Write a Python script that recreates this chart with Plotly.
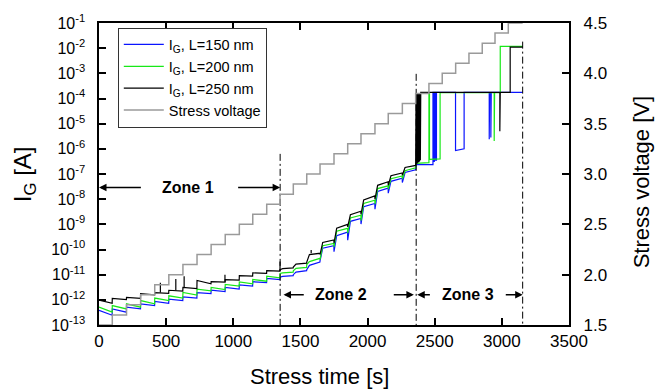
import plotly.graph_objects as go

# ---------------- data ----------------
# Stress-voltage staircase (time of each step [s], level [V])
v_times = [0, 99, 205, 310, 415, 520, 625, 730, 835, 940, 1045, 1145, 1249,
           1348, 1447, 1547, 1646, 1750, 1852, 1951, 2055, 2154, 2259,
           2358, 2457, 2556, 2656, 2755, 2854, 2949, 3048, 3155]
v_levels = [1.5, 1.6, 1.7, 1.8, 1.9, 2.0, 2.1, 2.2, 2.3, 2.4, 2.5, 2.6, 2.7,
            2.8, 2.9, 3.0, 3.1, 3.2, 3.3, 3.4, 3.5, 3.6, 3.7,
            3.8, 3.9, 4.0, 4.1, 4.2, 4.3, 4.4, 4.5, 4.5]

# IG given as log10(IG [A])
# Zone 1: value at start / end of each of the 13 voltage steps
z1_start_150 = [-12.42, -12.36, -12.29, -12.16, -12.06, -11.97, -11.88, -11.71, -11.62, -11.51, -11.41, -11.28, -11.15]
z1_end_150   = [-12.61, -12.49, -12.36, -12.23, -12.14, -12.03, -11.93, -11.75, -11.67, -11.57, -11.45, -11.32, -11.20]
z1_start_200 = [-12.29, -12.23, -12.16, -12.03, -11.93, -11.84, -11.71, -11.58, -11.51, -11.39, -11.29, -11.19, -11.06]
z1_end_200   = [-12.49, -12.36, -12.29, -12.16, -12.03, -11.93, -11.81, -11.64, -11.59, -11.45, -11.36, -11.26, -11.13]
z1_start_250 = [-12.01, -11.94, -11.90, -11.75, -11.71, -11.62, -11.51, -11.23, -11.28, -11.20, -11.04, -10.93, -10.84]
z1_end_250   = [-12.14, -11.99, -11.94, -11.80, -11.74, -11.65, -11.55, -11.36, -11.30, -11.22, -11.06, -10.95, -10.86]

# Zone 2: value at step start (dip), shortly after (rise), end of the 10 steps
z2_start_150 = [-11.10, -11.00, -10.80, -10.45, -10.09, -9.63, -8.99, -8.40, -7.76, -7.34]
z2_mid_150   = [-11.07, -10.90, -10.63, -9.95, -9.45, -8.88, -8.30, -7.69, -7.29, -6.94]
z2_end_150   = [-11.04, -10.84, -10.50, -9.85, -9.31, -8.77, -8.17, -7.56, -7.17, -6.83]
z2_start_200 = [-10.95, -10.85, -10.60, -10.40, -9.90, -9.35, -8.85, -8.20, -7.60, -7.20]
z2_mid_200   = [-10.93, -10.75, -10.48, -9.85, -9.27, -8.75, -8.17, -7.58, -7.19, -6.87]
z2_end_200   = [-10.90, -10.71, -10.35, -9.76, -9.16, -8.64, -8.04, -7.47, -7.08, -6.75]
z2_start_250 = [-10.80, -10.70, -10.50, -10.20, -9.75, -9.10, -8.60, -8.00, -7.45, -7.05]
z2_mid_250   = [-10.76, -10.58, -10.20, -9.72, -9.15, -8.62, -8.03, -7.45, -7.07, -6.74]
z2_end_250   = [-10.73, -10.54, -10.15, -9.62, -9.00, -8.48, -7.87, -7.31, -6.96, -6.66]

# Zone 3 (breakdown region): explicit points
z3_t_150 = [2358, 2360, 2487, 2487, 2492, 2492, 2497, 2497, 2505, 2505, 2513, 2513, 2655, 2655, 2719, 2719,
            2906, 2906, 2909, 2918, 2918, 2921, 3155]
z3_l_150 = [-6.83, -6.63, -6.63, -3.76, -3.76, -6.50, -6.50, -3.76, -3.76, -6.45, -6.45, -3.76, -3.76, -6.07, -6.00, -3.76,
            -3.76, -5.62, -3.76, -3.76, -5.55, -3.76, -3.76]
z3_t_200 = [2358, 2360, 2457, 2457, 2461, 2461, 2540, 2540, 2943, 2943, 2946, 2988, 2988, 3155]
z3_l_200 = [-6.75, -6.58, -6.55, -3.77, -3.77, -6.42, -6.40, -3.77, -3.77, -5.69, -3.77, -3.77, -1.93, -1.93]
z3_t_250 = [2358, 2361, 2363, 2366, 2369, 2372, 2375, 2378, 2381, 2384, 2387, 2390, 2393, 2396,
            2985, 2985, 2988, 3062, 3062, 3155]
z3_l_250 = [-6.66, -3.80, -6.60, -3.78, -6.58, -3.80, -6.55, -3.78, -6.52, -3.80, -6.50, -3.78, -6.45, -3.76,
            -3.76, -5.30, -3.76, -3.76, -1.96, -1.96]

# short noise spikes on the L=250 nm curve (time, base, peak) in log10
spike_t_250 = [457, 572, 634, 938, 1580, 1348]
spike_base_250 = [-11.71, -11.62, -11.51, -11.28, -10.15, -10.86]
spike_peak_250 = [-11.32, -11.17, -11.06, -11.00, -10.02, -10.48]

# zone boundaries (time) and the top of each dash-dot line (log10 IG)
zone_t = [1349, 2362, 3155]
zone_top = [-6.2, -3.02, -1.74]

series_names = ["I<sub>G</sub>, L=150 nm", "I<sub>G</sub>, L=200 nm", "I<sub>G</sub>, L=250 nm"]
series_colors = ["#0a14ff", "#18e818", "#000000"]
volt_color = "#9a9a9a"

y_tick_exp = list(range(-13, 0))
v_ticks = [1.5, 2.0, 2.5, 3.0, 3.5, 4.0, 4.5]

# ---------------- build ----------------
n1, n2 = 13, 10


def build(s1, e1, s2, m2, e2, t3, l3):
    t, y = [], []
    for k in range(n1):
        t += [v_times[k], v_times[k + 1] - 1]
        y += [s1[k], e1[k]]
    for k in range(n2):
        a, b = v_times[n1 + k], v_times[n1 + k + 1]
        t += [a, a + 20, b - 1]
        y += [s2[k], m2[k], e2[k]]
    t += t3
    y += l3
    return t, [10 ** v for v in y]


data = [
    build(z1_start_150, z1_end_150, z2_start_150, z2_mid_150, z2_end_150, z3_t_150, z3_l_150),
    build(z1_start_200, z1_end_200, z2_start_200, z2_mid_200, z2_end_200, z3_t_200, z3_l_200),
    build(z1_start_250, z1_end_250, z2_start_250, z2_mid_250, z2_end_250, z3_t_250, z3_l_250),
]

FONT = "Arial, Liberation Sans, sans-serif"
fig = go.Figure()

for (t, y), name, col in zip(data, series_names, series_colors):
    fig.add_trace(go.Scatter(x=t, y=y, mode="lines", name=name,
                             line=dict(color=col, width=1.2), yaxis="y"))

# spikes
sx, sy = [], []
for t, b, p in zip(spike_t_250, spike_base_250, spike_peak_250):
    sx += [t, t, None]
    sy += [10 ** b, 10 ** p, None]
fig.add_trace(go.Scatter(x=sx, y=sy, mode="lines", showlegend=False,
                         line=dict(color="#000000", width=1.2), yaxis="y"))

# zone boundary lines
for t, top in zip(zone_t, zone_top):
    fig.add_trace(go.Scatter(x=[t, t], y=[10 ** top, 1e-13], mode="lines", showlegend=False,
                             line=dict(color="black", width=1, dash="7px,3px,2px,3px"), yaxis="y"))

fig.add_trace(go.Scatter(x=v_times, y=v_levels, mode="lines", name="Stress voltage",
                         line=dict(color=volt_color, width=1.5, shape="hv"), yaxis="y2"))

axis_common = dict(showline=True, linecolor="black", linewidth=1.5, ticks="inside",
                   ticklen=7, tickwidth=1.5, tickcolor="black", showgrid=False, zeroline=False,
                   tickfont=dict(family=FONT, size=17, color="black"))

fig.update_layout(
    width=672, height=392,
    margin=dict(l=99, r=103, t=16, b=67),
    paper_bgcolor="white", plot_bgcolor="white",
    font=dict(family=FONT, color="black"),
    xaxis=dict(range=[0, 3500], dtick=500, mirror="ticks", **axis_common),
    yaxis=dict(type="log", range=[-13, -1],
               tickvals=[10 ** e for e in y_tick_exp],
               ticktext=[f"10<sup>{e}</sup>\u00a0\u00a0" for e in y_tick_exp],
               **{**axis_common, "tickfont": dict(family=FONT, size=16, color="black")}),
    yaxis2=dict(overlaying="y", side="right", range=[1.5, 4.5],
                tickvals=v_ticks, ticktext=[f"\u00a0\u00a0{v:.1f}" for v in v_ticks],
                **axis_common),
    legend=dict(x=0.040, y=0.985, xanchor="left", yanchor="top",
                bgcolor="white", bordercolor="#333333", borderwidth=1, itemwidth=40,
                font=dict(family=FONT, size=14.5, color="black"), tracegroupgap=0),
    showlegend=True,
)

# axis titles
fig.add_annotation(text="Stress time [s]", xref="paper", yref="paper", x=0.470, y=-0.1715,
                   showarrow=False, font=dict(family=FONT, size=22), xanchor="center", yanchor="middle")
fig.add_annotation(text="I<sub>G</sub> [A]", xref="paper", yref="paper", x=-0.159, y=0.5,
                   showarrow=False, textangle=-90, font=dict(family=FONT, size=24),
                   xanchor="center", yanchor="middle")
fig.add_annotation(text="Stress voltage [V]", xref="paper", yref="paper", x=1.155, y=0.472,
                   showarrow=False, textangle=-90, font=dict(family=FONT, size=22),
                   xanchor="center", yanchor="middle")

# zone labels
def ypaper(py):
    return 1 - (py - 16) / 309


zone_font = dict(family=FONT, size=16, color="black")
for txt, xc, py in [("<b>Zone 1</b>", 661, 184.3), ("<b>Zone 2</b>", 1805, 294), ("<b>Zone 3</b>", 2747, 294)]:
    fig.add_annotation(text=txt, x=xc, xref="x", y=ypaper(py), yref="paper", showarrow=False,
                       font=zone_font, xanchor="center", yanchor="middle")

for head, tail, py in [(0, 323, 184.3), (1349, 1025, 184.3), (1374, 1536, 294),
                       (2345, 2184, 294), (2370, 2475, 294), (3155, 3018, 294)]:
    fig.add_annotation(text="", x=head, xref="x", y=ypaper(py), yref="paper",
                       ax=tail, axref="x", ay=0, ayref="pixel", showarrow=True,
                       arrowhead=2, arrowsize=1, arrowwidth=1.5, arrowcolor="black", standoff=0)

fig.write_html("out.html")
